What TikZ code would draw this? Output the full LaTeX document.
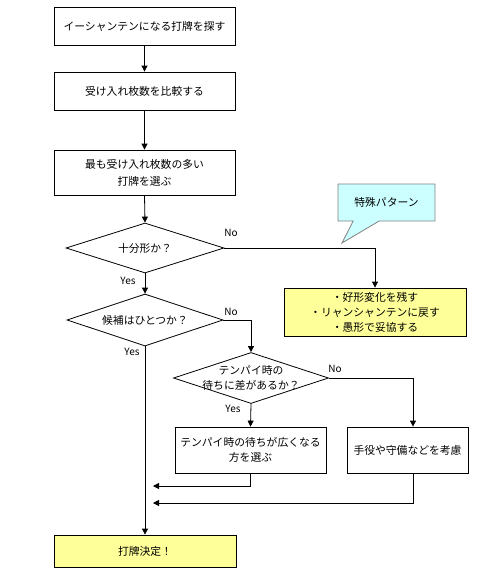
\documentclass[tikz,border=0pt]{standalone}
\usepackage{fontspec}
\setmainfont{Noto Sans CJK JP}
\usetikzlibrary{arrows.meta,shapes.geometric,shapes.callouts}
\definecolor{ylw}{HTML}{FFFF99}
\definecolor{cyn}{HTML}{CCFFFF}
\tikzset{
  box/.style={draw=black,line width=0.8pt,fill=white,rectangle,inner sep=2pt,align=center,font=\fontsize{10.8pt}{15pt}\selectfont},
  ybox/.style={box,fill=ylw},
  dia/.style={draw=black,line width=0.8pt,diamond,inner sep=0pt},
  dtext/.style={align=center,inner sep=0pt,font=\fontsize{10.8pt}{15pt}\selectfont},
  lbl/.style={inner sep=0pt,font=\fontsize{10pt}{11pt}\selectfont},
  conn/.style={line width=0.8pt,-{Triangle[length=6pt,width=6pt]}},
}
\begin{document}
\begin{tikzpicture}[x=1pt,y=-1pt]
\useasboundingbox (0,0) rectangle (487,576);
\fill[white] (0,0) rectangle (487,576);
% process boxes
\node[box,minimum width=181pt,minimum height=38pt] (b1) at (144.5,26) {イーシャンテンになる打牌を探す};
\node[box,minimum width=181pt,minimum height=38pt] (b2) at (144.5,91) {受け入れ枚数を比較する};
\node[box,minimum width=181pt,minimum height=45pt,font=\fontsize{10.8pt}{17pt}\selectfont] (b3) at (144.5,172.5) {最も受け入れ枚数の多い\\打牌を選ぶ};
% decisions
\node[dia,minimum width=158pt,minimum height=50pt] (d1) at (145,248) {};
\node[dtext] (t1) at (d1.center) {十分形か？};
\node[dia,minimum width=156pt,minimum height=52pt] (d2) at (145,320) {};
\node[dtext] (t2) at (d2.center) {候補はひとつか？};
\node[dia,minimum width=155pt,minimum height=51pt] (d3) at (251,378) {};
\node[dtext] (t3) at (d3.center) {テンパイ時の\\待ちに差があるか？};
% results
\node[ybox,minimum width=182pt,minimum height=48pt] (yb) at (375,312) {・好形変化を残す\\・リャンシャンテンに戻す\\・愚形で妥協する};
\node[box,minimum width=151pt,minimum height=46pt] (bl) at (250.5,450) {テンパイ時の待ちが広くなる\\方を選ぶ};
\node[box,minimum width=121pt,minimum height=46pt] (br) at (407.5,450) {手役や守備などを考慮};
\node[ybox,minimum width=182pt,minimum height=32pt] (fin) at (145,551) {打牌決定！};
% callout
\node[rectangle callout,draw=gray,fill=cyn,line width=0.8pt,minimum width=97pt,minimum height=37pt,
  callout absolute pointer={(342,243)},callout pointer width=26pt,font=\fontsize{10.8pt}{12pt}\selectfont] (co) at (386.5,202.5) {特殊パターン};
% connectors
\draw[conn] (b1.south) -- (b2.north);
\draw[conn] (b2.south) -- (b3.north);
\draw[conn] (b3.south) -- (d1.north);
\draw[conn] (d1.south) -- (d2.north);
\draw[conn] (d1.east) -| (yb.north);
\draw[conn] (d2.east) -| (d3.north);
\draw[conn] (d2.south) -- (fin.north);
\draw[conn] (d3.south) -- (bl.north);
\draw[conn] (d3.east) -| ([xshift=5.5pt]br.north);
\coordinate (m1) at (153,486);
\coordinate (m2) at (153,503);
\draw[conn] (bl.south) |- (m1);
\draw[conn] ([xshift=5.5pt]br.south) |- (m2);
% labels
\node[lbl] (n1) at (231,233) {No};
\node[lbl] (y1) at (128,281) {Yes};
\node[lbl] (n2) at (231,312) {No};
\node[lbl] (y2) at (132,352) {Yes};
\node[lbl] (n3) at (335,369) {No};
\node[lbl] (y3) at (233,409) {Yes};
\end{tikzpicture}
\end{document}
